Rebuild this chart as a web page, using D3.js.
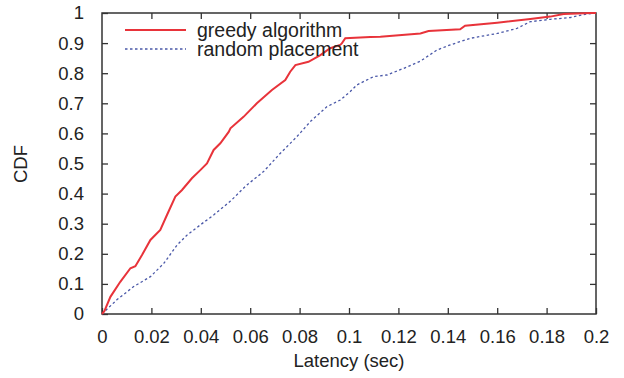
<!DOCTYPE html>
<html><head><meta charset="utf-8">
<script src="https://cdn.jsdelivr.net/npm/d3@7"></script>
<style>html,body{margin:0;padding:0;background:#fff;}svg{display:block;}</style>
</head><body>
<script>
const xTicks = [0,0.02,0.04,0.06,0.08,0.1,0.12,0.14,0.16,0.18,0.2];
const yTicks = [0,0.1,0.2,0.3,0.4,0.5,0.6,0.7,0.8,0.9,1];
const seriesNames = ["greedy algorithm","random placement"];
const greedyX = [0,0.001,0.0034,0.0074,0.0115,0.0135,0.0162,0.0196,0.0236,0.0263,0.0297,0.0324,0.0364,0.0398,0.0425,0.0452,0.0479,0.0513,0.052,0.0573,0.0627,0.0688,0.0742,0.0762,0.0783,0.0836,0.0884,0.0924,0.0964,0.0971,0.0985,0.1086,0.1127,0.1289,0.1322,0.145,0.147,0.16,0.1734,0.1815,0.1869,0.1978,0.2];
const greedyY = [0,0.01,0.057,0.107,0.152,0.159,0.196,0.246,0.279,0.329,0.39,0.412,0.451,0.478,0.5,0.545,0.567,0.605,0.617,0.655,0.70,0.744,0.777,0.805,0.827,0.838,0.86,0.883,0.894,0.899,0.916,0.92,0.921,0.932,0.94,0.946,0.958,0.968,0.98,0.988,0.997,1.0,1.0];
const randomX = [0,0.001,0.006,0.0128,0.0196,0.025,0.0304,0.0344,0.0398,0.0452,0.052,0.0587,0.0654,0.0722,0.0789,0.0843,0.0911,0.0965,0.1005,0.1032,0.11,0.1154,0.1221,0.1289,0.1356,0.141,0.1491,0.16,0.168,0.1734,0.1815,0.1896,0.1964,0.2];
const randomY = [0,0.008,0.047,0.091,0.124,0.168,0.229,0.262,0.296,0.329,0.375,0.429,0.473,0.534,0.589,0.639,0.689,0.711,0.739,0.761,0.789,0.794,0.816,0.84,0.877,0.894,0.916,0.932,0.949,0.971,0.979,0.985,0.997,1.0];

const W=624,H=378;
const m={l:102,r:596,t:13,b:314};
const svg=d3.select("body").append("svg").attr("width",W).attr("height",H);
const x=d3.scaleLinear().domain([0,0.2]).range([m.l,m.r]);
const y=d3.scaleLinear().domain([0,1]).range([m.b,m.t]);
const font="'Liberation Sans', Arial, Helvetica, sans-serif";
const tc="#222", ac="#333";
const fs=18.5;

// axes with inward ticks on all sides
const fmt=d=>d===0?"0":String(+d.toFixed(2));
const gB=svg.append("g").attr("transform",`translate(0,${m.b})`)
  .call(d3.axisBottom(x).tickValues(xTicks).tickFormat(fmt).tickSizeInner(-6).tickSizeOuter(0).tickPadding(16));
const gT=svg.append("g").attr("transform",`translate(0,${m.t})`)
  .call(d3.axisTop(x).tickValues(xTicks.slice(1,-1)).tickFormat("").tickSizeInner(-6).tickSizeOuter(0));
const gL=svg.append("g").attr("transform",`translate(${m.l},0)`)
  .call(d3.axisLeft(y).tickValues(yTicks).tickFormat(fmt).tickSizeInner(-6).tickSizeOuter(0).tickPadding(18));
const gR=svg.append("g").attr("transform",`translate(${m.r},0)`)
  .call(d3.axisRight(y).tickValues(yTicks.slice(1,-1)).tickFormat("").tickSizeInner(-6).tickSizeOuter(0));
[gB,gT,gL,gR].forEach(g=>{
  g.select(".domain").remove();
  g.selectAll(".tick line").attr("stroke",ac).attr("stroke-width",1.3);
  g.selectAll("text").attr("font-family",font).attr("font-size",fs).attr("fill",tc);
});
svg.append("rect").attr("x",m.l).attr("y",m.t).attr("width",m.r-m.l).attr("height",m.b-m.t)
  .attr("fill","none").attr("stroke",ac).attr("stroke-width",1.5);

const line=d3.line().x(d=>x(d[0])).y(d=>y(d[1]));
const gd=d3.zip(greedyX,greedyY), rd=d3.zip(randomX,randomY);
svg.append("path").datum(rd).attr("d",line).attr("fill","none").attr("stroke","#4a58a8")
  .attr("stroke-width",1.3).attr("stroke-dasharray","2.5,2.5");
svg.append("path").datum(gd).attr("d",line).attr("fill","none").attr("stroke","#e8333a")
  .attr("stroke-width",2);

// legend
const lg=svg.append("g");
const legY=[30,49];
lg.append("line").attr("x1",125).attr("x2",186).attr("y1",legY[0]).attr("y2",legY[0])
  .attr("stroke","#e8333a").attr("stroke-width",2);
lg.append("line").attr("x1",125).attr("x2",186).attr("y1",legY[1]).attr("y2",legY[1])
  .attr("stroke","#4a58a8").attr("stroke-width",1.3).attr("stroke-dasharray","2.5,2.5");
seriesNames.forEach((n,i)=>{
  lg.append("text").attr("x",197).attr("y",legY[i]+6.5).text(n)
    .attr("font-family",font).attr("font-size",19.5).attr("fill",tc);
});

// axis titles
svg.append("text").attr("x",349).attr("y",367).attr("text-anchor","middle")
  .attr("font-family",font).attr("font-size",fs).attr("fill",tc).text("Latency (sec)");
svg.append("text").attr("transform","translate(27,164) rotate(-90)").attr("text-anchor","middle")
  .attr("font-family",font).attr("font-size",fs).attr("fill",tc).text("CDF");
</script>
</body></html>
